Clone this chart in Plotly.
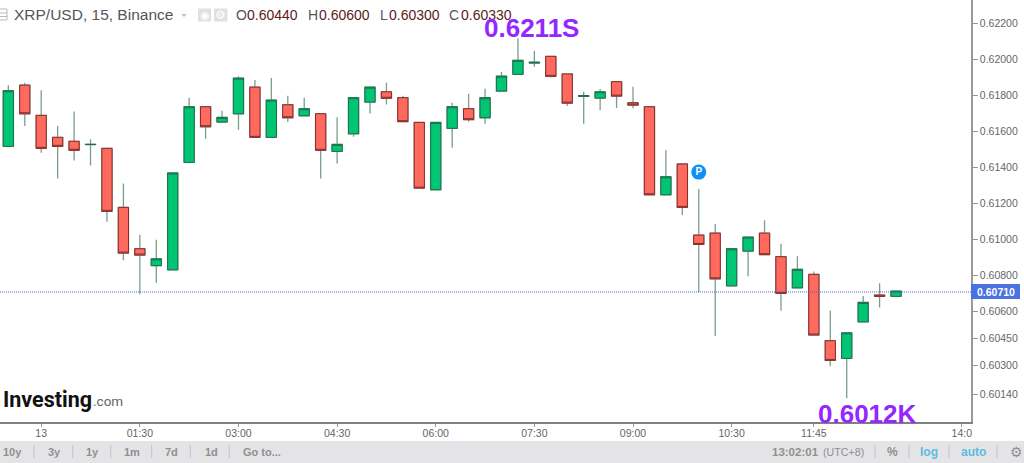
import pandas as pd
import plotly.graph_objects as go

W, H = 1024, 463

# ---------- data ----------
start_time = "2019-08-12 23:30"
opens = [0.61519,0.61859,0.61691,0.61569,0.61547,0.61529,0.61508,0.61180,0.60950,0.60856,
         0.60833,0.61430,0.61739,0.61654,0.61700,0.61848,0.61569,0.61750,0.61689,0.61700,
         0.61491,0.61589,0.61765,0.61822,0.61789,0.61652,0.61278,0.61619,0.61728,0.61678,
         0.61826,0.61919,0.61982,0.62019,0.61921,0.61797,0.61787,0.61878,0.61761,0.61739,
         0.61250,0.61421,0.61026,0.61037,0.60744,0.60937,0.61037,0.60906,0.60733,0.60808,
         0.60439,0.60341,0.60544,0.60693,0.60686]
highs = [0.61859,0.61872,0.61830,0.61632,0.61713,0.61558,0.61508,0.61313,0.61028,0.61000,
         0.61371,0.61789,0.61739,0.61717,0.61909,0.61887,0.61898,0.61800,0.61789,0.61700,
         0.61680,0.61789,0.61848,0.61872,0.61800,0.61652,0.61652,0.61761,0.61811,0.61839,
         0.61932,0.62119,0.62048,0.62019,0.61921,0.61822,0.61837,0.61878,0.61850,0.61739,
         0.61498,0.61421,0.61282,0.61087,0.60950,0.61015,0.61109,0.60978,0.60908,0.60824,
         0.60606,0.60483,0.60687,0.60758,0.60715]
lows  = [0.61519,0.61632,0.61483,0.61341,0.61441,0.61413,0.61100,0.60886,0.60697,0.60761,
         0.60833,0.61430,0.61561,0.61654,0.61611,0.61569,0.61569,0.61654,0.61689,0.61341,
         0.61424,0.61572,0.61702,0.61752,0.61656,0.61287,0.61278,0.61511,0.61656,0.61644,
         0.61826,0.61919,0.61961,0.61902,0.61743,0.61644,0.61721,0.61732,0.61730,0.61250,
         0.61250,0.61137,0.60708,0.60465,0.60744,0.60798,0.60917,0.60606,0.60728,0.60471,
         0.60298,0.60119,0.60544,0.60624,0.60686]
closes= [0.61828,0.61700,0.61508,0.61519,0.61497,0.61530,0.61158,0.60926,0.60915,0.60894,
         0.61371,0.61739,0.61628,0.61680,0.61898,0.61569,0.61776,0.61678,0.61728,0.61497,
         0.61530,0.61789,0.61848,0.61786,0.61656,0.61287,0.61652,0.61739,0.61667,0.61789,
         0.61909,0.61997,0.61986,0.61908,0.61759,0.61800,0.61822,0.61798,0.61748,0.61250,
         0.61350,0.61180,0.60974,0.60783,0.60950,0.61015,0.60917,0.60702,0.60836,0.60471,
         0.60330,0.60483,0.60652,0.60686,0.60715]

last_price = 0.60710
marker_time = "2019-08-13 10:00"
marker_price = 0.61376

y_ticks = [0.622,0.620,0.618,0.616,0.614,0.612,0.610,0.608,0.606,0.6045,0.603,0.6014]
y_tick_labels = ["0.62200","0.62000","0.61800","0.61600","0.61400","0.61200","0.61000",
                 "0.60800","0.60600","0.60450","0.60300","0.60140"]
x_ticks = ["2019-08-13 00:00","2019-08-13 01:30","2019-08-13 03:00","2019-08-13 04:30",
           "2019-08-13 06:00","2019-08-13 07:30","2019-08-13 09:00","2019-08-13 10:30",
           "2019-08-13 11:45","2019-08-13 14:00"]
x_tick_labels = ["13","01:30","03:00","04:30","06:00","07:30","09:00","10:30","11:45","14:0"]

times = pd.date_range(start_time, periods=len(opens), freq="15min")
body_high = [max(o, c) for o, c in zip(opens, closes)]
body_low = [min(o, c) for o, c in zip(opens, closes)]

# ---------- styles ----------
GREEN, RED = "#00c572", "#ff6a5f"
GREEN_EDGE, RED_EDGE = "#1e6e4c", "#8c2a2a"
WICK = "#7a9e8c"
FONT = "Liberation Sans"
LOGO = "Roboto"


def px(x):
    return x / W


def py(y):
    return 1 - y / H


fig = go.Figure()
# wicks
fig.add_trace(go.Candlestick(
    x=times, open=opens, high=highs, low=lows, close=closes,
    increasing=dict(line=dict(color=WICK, width=1.3), fillcolor=GREEN),
    decreasing=dict(line=dict(color=WICK, width=1.3), fillcolor=RED),
    showlegend=False, hoverinfo="skip"))
# bodies on top, with their darker outline
fig.add_trace(go.Candlestick(
    x=times, open=opens, high=body_high, low=body_low, close=closes,
    increasing=dict(line=dict(color=GREEN_EDGE, width=1), fillcolor=GREEN),
    decreasing=dict(line=dict(color=RED_EDGE, width=1), fillcolor=RED),
    showlegend=False, hoverinfo="skip"))
# "P" event badge
fig.add_trace(go.Scatter(
    x=[marker_time], y=[marker_price], mode="markers+text", text=["<b>P</b>"],
    textposition="middle center", textfont=dict(family=FONT, size=10, color="white"),
    marker=dict(size=15, color="#1090f5"), showlegend=False, hoverinfo="skip"))

shapes = [
    # last price line
    dict(type="line", xref="paper", yref="y", x0=0, x1=px(971), y0=last_price, y1=last_price,
         line=dict(color="#4a68d8", width=1, dash="1px,1px")),
    # bottom toolbar
    dict(type="rect", xref="paper", yref="paper", x0=0, x1=1, y0=py(463), y1=py(441),
         fillcolor="#e4e4e6", line_width=0, layer="below"),
    # last price tag
    dict(type="rect", xref="paper", yref="paper", x0=px(971), x1=px(1020), y0=py(299), y1=py(284),
         fillcolor="#4a72e0", line_width=0),
    # header icons
    dict(type="rect", xref="paper", yref="paper", x0=px(198), x1=px(211), y0=py(21.5), y1=py(8.5),
         fillcolor="#e0e0e0", line_width=0, layer="below"),
    dict(type="rect", xref="paper", yref="paper", x0=px(214), x1=px(227.5), y0=py(21.5), y1=py(8.5),
         fillcolor="#e0e0e0", line_width=0, layer="below"),
    dict(type="rect", xref="paper", yref="paper", x0=px(-3), x1=px(7), y0=py(20), y1=py(9),
         line=dict(color="#bbbbbb", width=1), fillcolor="rgba(0,0,0,0)"),
    dict(type="line", xref="paper", yref="paper", x0=0, x1=px(7), y0=py(13), y1=py(13),
         line=dict(color="#bbbbbb", width=1)),
    dict(type="line", xref="paper", yref="paper", x0=0, x1=px(7), y0=py(16.5), y1=py(16.5),
         line=dict(color="#bbbbbb", width=1)),
    dict(type="path", xref="paper", yref="paper",
         path=f"M {px(181)} {py(14)} L {px(187)} {py(14)} L {px(184)} {py(17)} Z",
         fillcolor="#c4c4c4", line_width=0),
    # orange dot of the logo
    dict(type="circle", xref="paper", yref="paper", x0=px(62.5), x1=px(66), y0=py(392.5), y1=py(389),
         fillcolor="#f5a623", line_width=0),
]
for sx in [34, 72.7, 110.7, 151.7, 190.3, 229.3, 875, 909, 949, 997]:
    shapes.append(dict(type="line", xref="paper", yref="paper", x0=px(sx), x1=px(sx),
                       y0=py(458), y1=py(445), line=dict(color="#c4c4c6", width=1)))


def label(text, x, y, size=12, color="#666666", anchor="center", family=FONT):
    return dict(text=text, xref="paper", yref="paper", x=px(x), y=py(y), xanchor=anchor,
                yanchor="middle", showarrow=False, font=dict(family=family, size=size, color=color),
                borderpad=0, borderwidth=0)


DARK_RED = "#5c1a1a"
GREY = "#909090"
annotations = [
    label("XRP/USD, 15, Binance", 14, 15, 15.5, "#555555", "left"),
    label("◉", 204.5, 15, 11, "#ffffff"),
    label("⚙", 220.7, 15, 12, "#ffffff", family="DejaVu Sans"),
    label("O", 235.5, 15, 14, "#555555", "left"), label("0.60440", 247, 15, 14, DARK_RED, "left"),
    label("H", 307.5, 15, 14, "#555555", "left"), label("0.60600", 319, 15, 14, DARK_RED, "left"),
    label("L", 380, 15, 14, "#555555", "left"), label("0.60300", 389, 15, 14, DARK_RED, "left"),
    label("C", 449, 15, 14, "#555555", "left"), label("0.60330", 460.5, 15, 14, DARK_RED, "left"),
    label("<b>0.6211S</b>", 531.5, 28, 26, "#9526ff"),
    label("<b>0.6012K</b>", 867.5, 414, 26, "#9526ff"),
    label("<b>Investing</b>", 3, 399, 21.5, "#111111", "left", LOGO),
    label(".com", 92.5, 401, 13.5, "#666666", "left", LOGO),
    label("<b>0.60710</b>", 995.7, 291.5, 10.5, "#ffffff"),
]
for t, cx in zip(["10y", "3y", "1y", "1m", "7d", "1d", "Go to..."],
                 [12.7, 54, 92, 131.7, 171.7, 211, 261.7]):
    annotations.append(label(f"<b>{t}</b>", cx, 451.7, 11, GREY))
annotations += [
    label("<b>13:02:01</b>", 795, 451.7, 11.5, GREY),
    label("(UTC+8)", 843, 451.7, 10.7, GREY),
    label("<b>%</b>", 892, 451.7, 12, GREY),
    label("<b>log</b>", 929, 451.7, 12, "#5bbce4"),
    label("<b>auto</b>", 973, 451.7, 12, "#5bbce4"),
    label("⚙", 1016, 451.7, 14, GREY, family="DejaVu Sans"),
]

fig.update_layout(
    width=W, height=H, autosize=False, margin=dict(l=0, r=0, t=0, b=0, pad=0),
    paper_bgcolor="white", plot_bgcolor="white", showlegend=False,
    boxmode="overlay", boxgap=0.38, boxgroupgap=0,
    shapes=shapes, annotations=annotations,
    xaxis=dict(type="date", domain=[0, px(971)],
               range=["2019-08-12 23:22:24", "2019-08-13 14:08:24"],
               rangeslider=dict(visible=False), showgrid=False, zeroline=False,
               showline=True, linecolor="#808080", linewidth=1.5,
               ticks="outside", ticklen=3, tickcolor="#999999",
               tickmode="array", tickvals=x_ticks, ticktext=x_tick_labels,
               ticklabelstandoff=-3,
               tickfont=dict(family=FONT, size=10.5, color="#666666"), tickangle=0),
    yaxis=dict(side="right", domain=[py(422.3), 1], range=[0.59986, 0.62332],
               showgrid=False, zeroline=False, showline=True, linecolor="#999999", linewidth=1.5,
               ticks="outside", ticklen=5, tickcolor="#999999",
               tickmode="array", tickvals=y_ticks, ticktext=y_tick_labels,
               tickfont=dict(family=FONT, size=10.5, color="#666666")),
)

fig.write_html("out.html", config=dict(displayModeBar=False),
               post_script="document.body.style.margin='0';document.body.style.overflow='hidden';")
